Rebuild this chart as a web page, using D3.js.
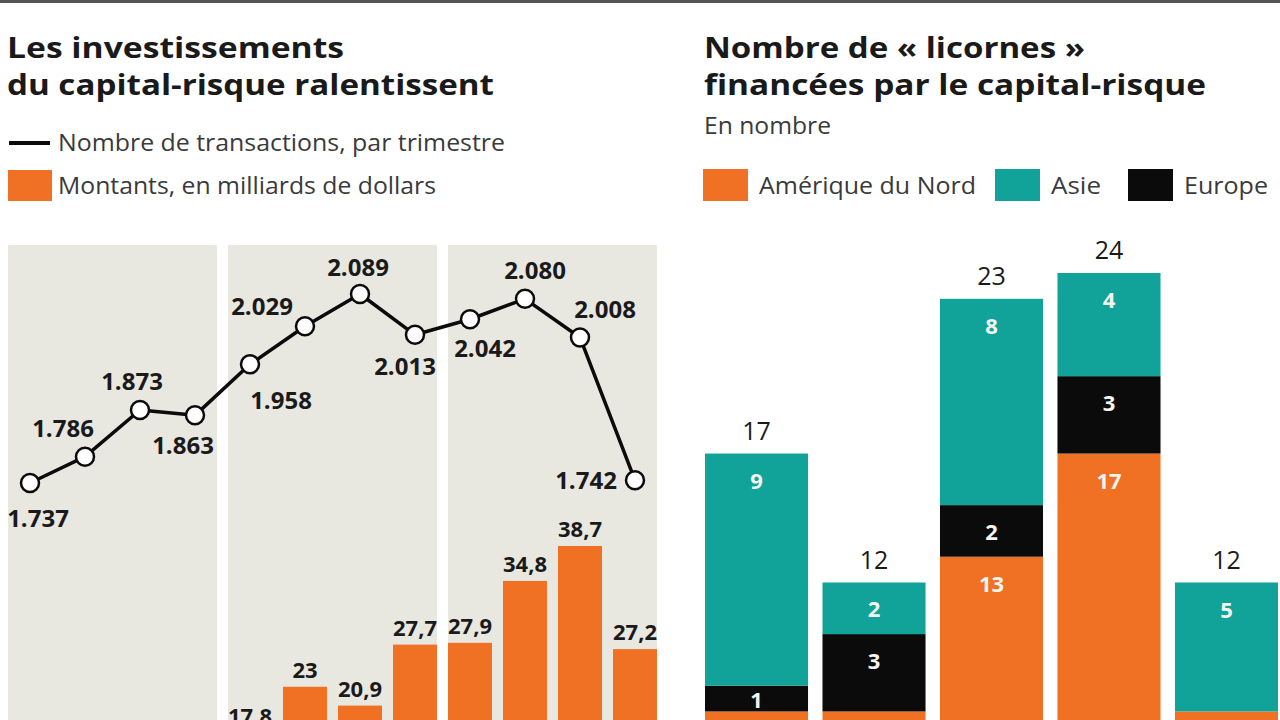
<!DOCTYPE html>
<html>
<head>
<meta charset="utf-8">
<script src="https://cdn.jsdelivr.net/npm/d3@7"></script>
<style>
  html, body { margin: 0; padding: 0; background: #ffffff; }
  svg { display: block; }
  text { font-family: "Open Sans", Roboto, sans-serif; }
</style>
</head>
<body>
<svg id="chart" width="1280" height="720"></svg>
<script>
// ---------- DATA ----------
// Left chart: 12 quarters in 3 yearly groups
const quarters = ["T1-A", "T2-A", "T3-A", "T4-A", "T1-B", "T2-B", "T3-B", "T4-B", "T1-C", "T2-C", "T3-C", "T4-C"];
const yearGroups = [0, 1, 2];
const transactions = [1737, 1786, 1873, 1863, 1958, 2029, 2089, 2013, 2042, 2080, 2008, 1742];
const transactionLabels = ["1.737", "1.786", "1.873", "1.863", "1.958", "2.029", "2.089", "2.013", "2.042", "2.080", "2.008", "1.742"];
// first-year bars lie below the visible frame (estimated)
const amounts = [14.2, 15.3, 16.0, 15.1, 17.8, 23, 20.9, 27.7, 27.9, 34.8, 38.7, 27.2];
const amountLabels = ["14,2", "15,3", "16", "15,1", "17,8", "23", "20,9", "27,7", "27,9", "34,8", "38,7", "27,2"];

// Right chart: unicorns by region
const periods = ["P1", "P2", "P3", "P4", "P5"];
const regions = ["Amérique du Nord", "Europe", "Asie"];
const northAmerica = [7, 7, 13, 17, 7];
const europe = [1, 3, 2, 3, 0];
const asia = [9, 2, 8, 4, 5];
const totals = [17, 12, 23, 24, 12];

// ---------- LAYOUT / STYLE ----------
const C = {
  orange: "#f07123",
  teal: "#11a39a",
  black: "#0b0b0b",
  panel: "#e8e7e0",
  text: "#1a1a1a",
  grey: "#3a3a3a"
};
// label placement for line points: [dx, dy] relative to point
const lineLabelOffsets = [
  [8, 38], [-22, -26], [-8, -26], [-12, 32], [31, 38], [-43, -18],
  [-2, -24], [-10, 34], [15, 31], [10, -26], [25, -26], [-49, 2]
];

const svg = d3.select("#chart");

function fitText(sel, width) {
  sel.attr("textLength", width).attr("lengthAdjust", "spacingAndGlyphs");
  return sel;
}

// top rule
svg.append("rect").attr("x", 0).attr("y", 0).attr("width", 1280).attr("height", 3).attr("fill", "#555");

// ---------- LEFT CHART ----------
const base = 893;
const x = d3.scaleBand().domain(quarters).range([8, 657]).paddingInner(0.2).paddingOuter(0);
const yBar = d3.scaleLinear().domain([0, 38.7]).range([base, 546]);
const yLine = d3.scaleLinear().domain([1737, 2089]).range([483, 294]);

// titles
fitText(svg.append("text").attr("x", 7).attr("y", 58).attr("font-weight", 700).attr("font-size", 28).attr("fill", C.text)
  .text("Les investissements"), 337);
fitText(svg.append("text").attr("x", 7).attr("y", 95).attr("font-weight", 700).attr("font-size", 28).attr("fill", C.text)
  .text("du capital-risque ralentissent"), 487);

// legend
svg.append("rect").attr("x", 9).attr("y", 141).attr("width", 41).attr("height", 4).attr("fill", C.black);
fitText(svg.append("text").attr("x", 58).attr("y", 151).attr("font-size", 23).attr("fill", C.grey)
  .text("Nombre de transactions, par trimestre"), 447);
svg.append("rect").attr("x", 8).attr("y", 170).attr("width", 44).attr("height", 31).attr("fill", C.orange);
fitText(svg.append("text").attr("x", 58).attr("y", 194).attr("font-size", 23).attr("fill", C.grey)
  .text("Montants, en milliards de dollars"), 378);

// panels
svg.append("g").selectAll("rect").data(yearGroups).join("rect")
  .attr("x", g => x(quarters[g * 4]))
  .attr("y", 245)
  .attr("width", g => x(quarters[g * 4 + 3]) + x.bandwidth() - x(quarters[g * 4]))
  .attr("height", 720)
  .attr("fill", C.panel);

// bars
svg.append("g").selectAll("rect").data(amounts).join("rect")
  .attr("x", (d, i) => x(quarters[i]))
  .attr("y", d => yBar(d))
  .attr("width", x.bandwidth())
  .attr("height", d => base - yBar(d))
  .attr("fill", C.orange);

svg.append("g").selectAll("text").data(amounts).join("text")
  .attr("x", (d, i) => x(quarters[i]) + x.bandwidth() / 2)
  .attr("y", d => yBar(d) - 9)
  .attr("text-anchor", "middle")
  .attr("font-weight", 700).attr("font-size", 22).attr("fill", C.text)
  .text((d, i) => amountLabels[i]);

// line
const line = d3.line()
  .x((d, i) => x(quarters[i]) + x.bandwidth() / 2)
  .y(d => yLine(d));
svg.append("path").datum(transactions).attr("d", line)
  .attr("fill", "none").attr("stroke", C.black).attr("stroke-width", 3.5).attr("stroke-linejoin", "round");

svg.append("g").selectAll("circle").data(transactions).join("circle")
  .attr("cx", (d, i) => x(quarters[i]) + x.bandwidth() / 2)
  .attr("cy", d => yLine(d))
  .attr("r", 9)
  .attr("fill", "#fff").attr("stroke", C.black).attr("stroke-width", 2.5);

svg.append("g").selectAll("text").data(transactions).join("text")
  .attr("x", (d, i) => x(quarters[i]) + x.bandwidth() / 2 + lineLabelOffsets[i][0])
  .attr("y", (d, i) => yLine(d) + lineLabelOffsets[i][1])
  .attr("text-anchor", "middle")
  .attr("dominant-baseline", "middle")
  .attr("font-weight", 700).attr("font-size", 24).attr("fill", C.text)
  .text((d, i) => transactionLabels[i]);

// ---------- RIGHT CHART ----------
const rbase = 892;
const xr = d3.scaleBand().domain(periods).range([705, 1278]).paddingInner(0.123).paddingOuter(0);
const yr = d3.scaleLinear().domain([0, 24]).range([rbase, 273]);

fitText(svg.append("text").attr("x", 704).attr("y", 58).attr("font-weight", 700).attr("font-size", 28).attr("fill", C.text)
  .text("Nombre de « licornes »"), 381);
fitText(svg.append("text").attr("x", 704).attr("y", 95).attr("font-weight", 700).attr("font-size", 28).attr("fill", C.text)
  .text("financées par le capital-risque"), 502);
fitText(svg.append("text").attr("x", 704).attr("y", 134).attr("font-size", 23).attr("fill", C.grey).text("En nombre"), 127);

const legendItems = [
  { name: "Amérique du Nord", color: C.orange, x: 703, w: 217 },
  { name: "Asie", color: C.teal, x: 995, w: 50 },
  { name: "Europe", color: C.black, x: 1128, w: 84 }
];
const lg = svg.append("g").selectAll("g").data(legendItems).join("g");
lg.append("rect").attr("x", d => d.x).attr("y", 169).attr("width", 45).attr("height", 32).attr("fill", d => d.color);
lg.append("text").attr("x", d => d.x + 56).attr("y", 194).attr("font-size", 23).attr("fill", C.grey)
  .attr("textLength", d => d.w).attr("lengthAdjust", "spacingAndGlyphs")
  .text(d => d.name);

const table = periods.map((p, i) => ({
  period: p,
  "Amérique du Nord": northAmerica[i],
  "Europe": europe[i],
  "Asie": asia[i]
}));
const stack = d3.stack().keys(regions)(table);
const colorR = d3.scaleOrdinal().domain(regions).range([C.orange, C.black, C.teal]);

const layers = svg.append("g").selectAll("g").data(stack).join("g").attr("fill", d => colorR(d.key));
layers.selectAll("rect").data(d => d).join("rect")
  .attr("x", d => xr(d.data.period))
  .attr("y", d => yr(d[1]))
  .attr("width", xr.bandwidth())
  .attr("height", d => yr(d[0]) - yr(d[1]));

layers.selectAll("text").data(d => d.filter(s => s[1] - s[0] > 0)).join("text")
  .attr("x", d => xr(d.data.period) + xr.bandwidth() / 2)
  .attr("y", d => {
    const h = yr(d[0]) - yr(d[1]);
    return yr(d[1]) + Math.min(h / 2, 26);
  })
  .attr("text-anchor", "middle")
  .attr("dominant-baseline", "central")
  .attr("font-weight", 700).attr("font-size", 22).attr("fill", "#f4f4f0")
  .text(d => d[1] - d[0]);

svg.append("g").selectAll("text").data(totals).join("text")
  .attr("x", (d, i) => xr(periods[i]) + xr.bandwidth() / 2)
  .attr("y", d => yr(d) - 14)
  .attr("text-anchor", "middle")
  .attr("font-weight", 500).attr("font-size", 25).attr("fill", C.text)
  .text(d => d);
</script>
</body>
</html>
